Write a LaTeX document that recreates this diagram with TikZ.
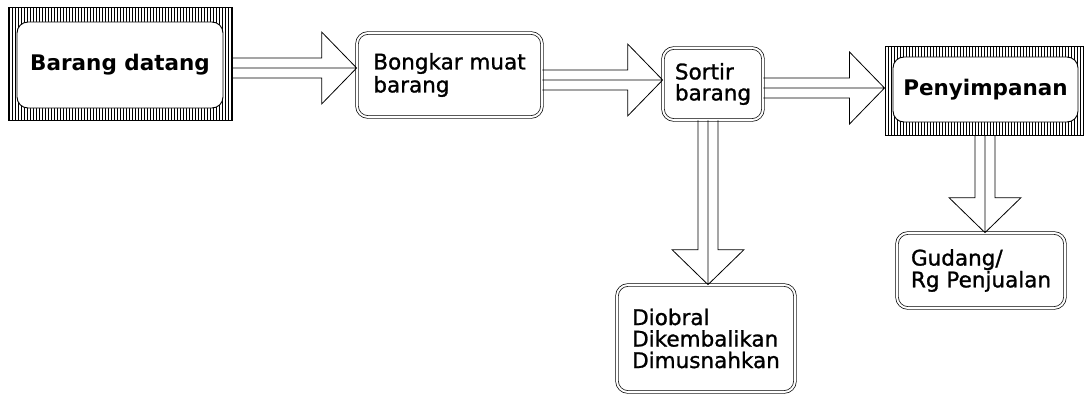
\documentclass[tikz,border=0pt]{standalone}
\usepackage{fontspec}
\setmainfont{DejaVu Sans}
\usetikzlibrary{calc,patterns.meta}
\newcommand{\harrow}[2]{%
 \draw[blk] let \p1=(#1), \p2=(#2) in
   (\x1,\y1+10pt) -- (\x2-35pt,\y1+10pt) -- (\x2-35pt,\y1+36pt) -- (\x2,\y1)
   -- (\x2-35pt,\y1-36pt) -- (\x2-35pt,\y1-10pt) -- (\x1,\y1-10pt)
   (\x1,\y1) -- (\x2,\y1);}
\newcommand{\varrow}[2]{%
 \draw[blk] let \p1=(#1), \p2=(#2) in
   (\x1-10pt,\y1) -- (\x1-10pt,\y2+35pt) -- (\x1-36pt,\y2+35pt) -- (\x1,\y2)
   -- (\x1+36pt,\y2+35pt) -- (\x1+10pt,\y2+35pt) -- (\x1+10pt,\y1)
   (\x1,\y1) -- (\x1,\y2);}
\newfontfamily\boxfont[FakeBold=1.2]{DejaVu Sans}
\begin{document}
\begin{tikzpicture}[x=1pt,y=-1pt,
  hatch/.style={draw=black, line width=1pt, pattern={Lines[angle=90,distance=3pt,line width=0.75pt]}, inner sep=0pt},
  innerbox/.style={draw=black, fill=white, line width=0.9pt, rounded corners=11pt, inner sep=0pt,
     font=\bfseries\fontsize{21.5}{24}\selectfont},
  dblbox/.style={draw=black, double=white, double distance=2pt, line width=0.7pt, fill=white,
     rounded corners=11pt, align=left, inner sep=0pt},
  blk/.style={draw=black, line width=0.8pt, line join=miter}]
\useasboundingbox (0,0) rectangle (1086,396);
\node[hatch, minimum width=224pt, minimum height=112pt] (bdf) at (120,64) {};
\node[innerbox, minimum width=206pt, minimum height=86pt] (bd) at (120,65) {Barang datang};
\node[dblbox, minimum width=185pt, minimum height=84pt, font=\boxfont\fontsize{21.5}{23}\selectfont] (bm) at (449.5,75) {Bongkar muat\\barang};
\node[dblbox, minimum width=100pt, minimum height=72pt, font=\boxfont\fontsize{21.5}{21}\selectfont] (so) at (713,84) {Sortir\\barang};
\node[hatch, minimum width=198pt, minimum height=88pt] (pyf) at (984,91) {};
\node[innerbox, minimum width=185pt, minimum height=65pt] (py) at (985.5,89.5) {Penyimpanan};
\node[dblbox, minimum width=178pt, minimum height=107pt, font=\boxfont\fontsize{21.5}{21.5}\selectfont] (db) at (706,338.5) {Diobral\\Dikembalikan\\Dimusnahkan};
\node[dblbox, minimum width=168pt, minimum height=75pt, font=\boxfont\fontsize{21.5}{20}\selectfont] (gd) at (981,270.5) {Gudang/\\Rg Penjualan};
\harrow{$(bdf.east)+(0,4)$}{bm.west}
\harrow{$(bm.east)+(0,5)$}{so.west}
\harrow{$(so.east)+(0,4)$}{pyf.west}
\varrow{$(so.south)+(-5,0)$}{db.north}
\varrow{$(pyf.south)+(1,0)$}{gd.north}
\end{tikzpicture}
\end{document}
